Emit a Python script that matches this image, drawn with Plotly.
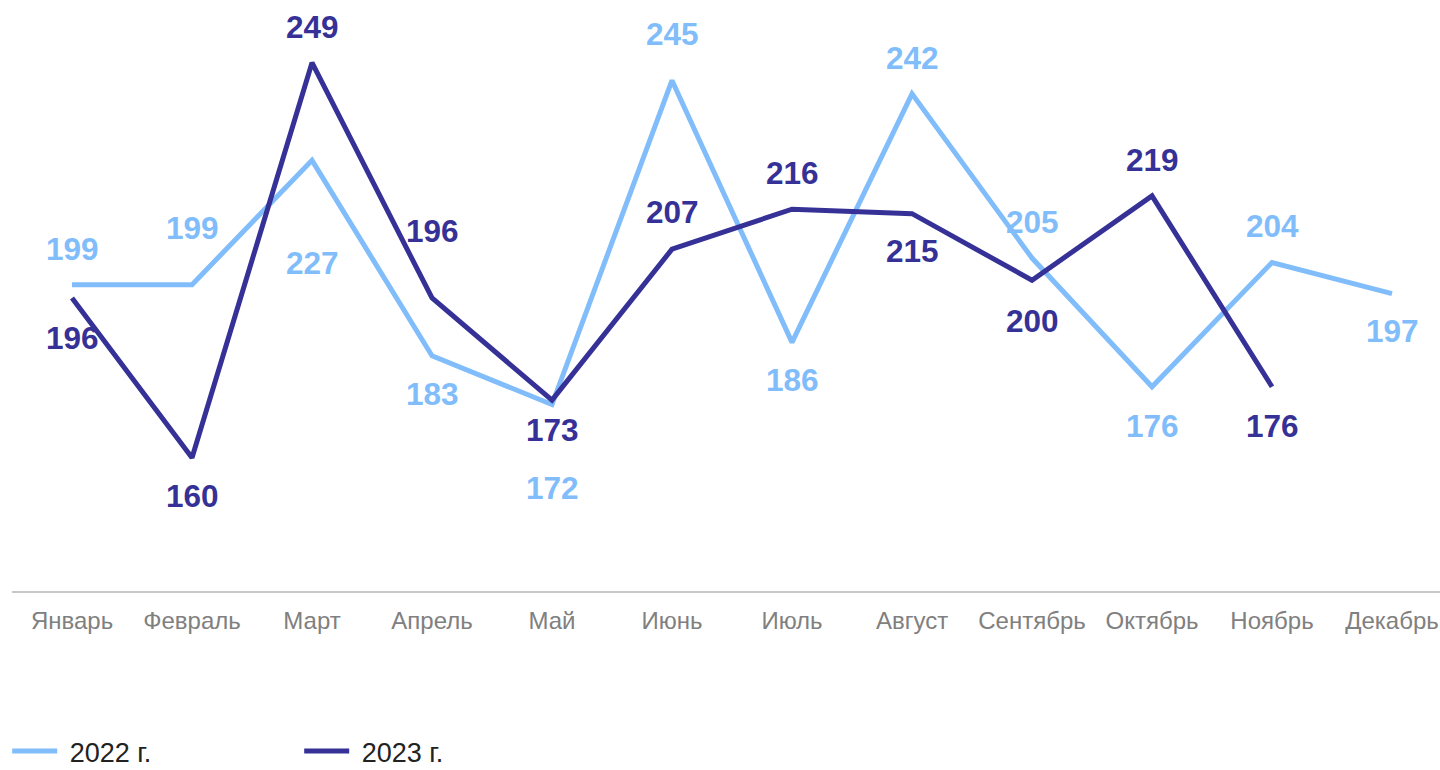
import plotly.graph_objects as go

months = ["Январь", "Февраль", "Март", "Апрель", "Май", "Июнь", "Июль",
          "Август", "Сентябрь", "Октябрь", "Ноябрь", "Декабрь"]
values_2022 = [199, 199, 227, 183, 172, 245, 186, 242, 205, 176, 204, 197]
values_2023 = [196, 160, 249, 196, 173, 207, 216, 215, 200, 219, 176]
series_names = ["2022 г.", "2023 г."]

# label vertical offsets in pixels (positive = below the point)
offsets_2022 = [-36, -57, 103, 38, 83, -46, 38, -36, -36, 39, -36, 37]
offsets_2023 = [40, 38, -36, -67, 30, -37, -36, 37, 41, -36, 39]

c_light = "#80BDFA"
c_dark = "#363196"
font_family = "Liberation Sans, Arial, sans-serif"

fig = go.Figure()
fig.add_trace(go.Scatter(x=months, y=values_2022, mode="lines",
                         name="\u00a0" + series_names[0],
                         line=dict(color=c_light, width=5)))
fig.add_trace(go.Scatter(x=months[:len(values_2023)], y=values_2023, mode="lines",
                         name="\u00a0" + series_names[1],
                         line=dict(color=c_dark, width=5)))

annotations = []
for vals, offs, col in [(values_2022, offsets_2022, c_light), (values_2023, offsets_2023, c_dark)]:
    for m, v, o in zip(months, vals, offs):
        annotations.append(dict(x=m, y=v, text=f"<b>{v}</b>", showarrow=False,
                                yshift=-o, font=dict(size=31.5, color=col, family=font_family)))

fig.update_layout(
    width=1440, height=770,
    margin=dict(l=12, r=0, t=5, b=179),
    plot_bgcolor="white", paper_bgcolor="white",
    font=dict(family=font_family),
    annotations=annotations,
    showlegend=True,
    legend=dict(orientation="h", xref="container", yref="container",
                x=0.005, xanchor="left", y=0.024, yanchor="middle",
                font=dict(size=27, color="#222222", family=font_family),
                entrywidth=232, entrywidthmode="pixels", itemwidth=45,
                bgcolor="rgba(0,0,0,0)"),
    xaxis=dict(type="category", range=[-0.5, 11.4], showgrid=False, zeroline=False,
               automargin=False,
               showline=True, linecolor="#C8C8C8", linewidth=2,
               ticks="outside", ticklen=7, tickcolor="rgba(0,0,0,0)",
               tickfont=dict(size=24, color="#808080", family=font_family)),
    yaxis=dict(range=[130, 262], visible=False, showgrid=False, zeroline=False,
               automargin=False),
)

fig.write_html("out.html", config={"displayModeBar": False},
               post_script="document.body.style.margin='0';document.body.style.overflow='hidden';")
